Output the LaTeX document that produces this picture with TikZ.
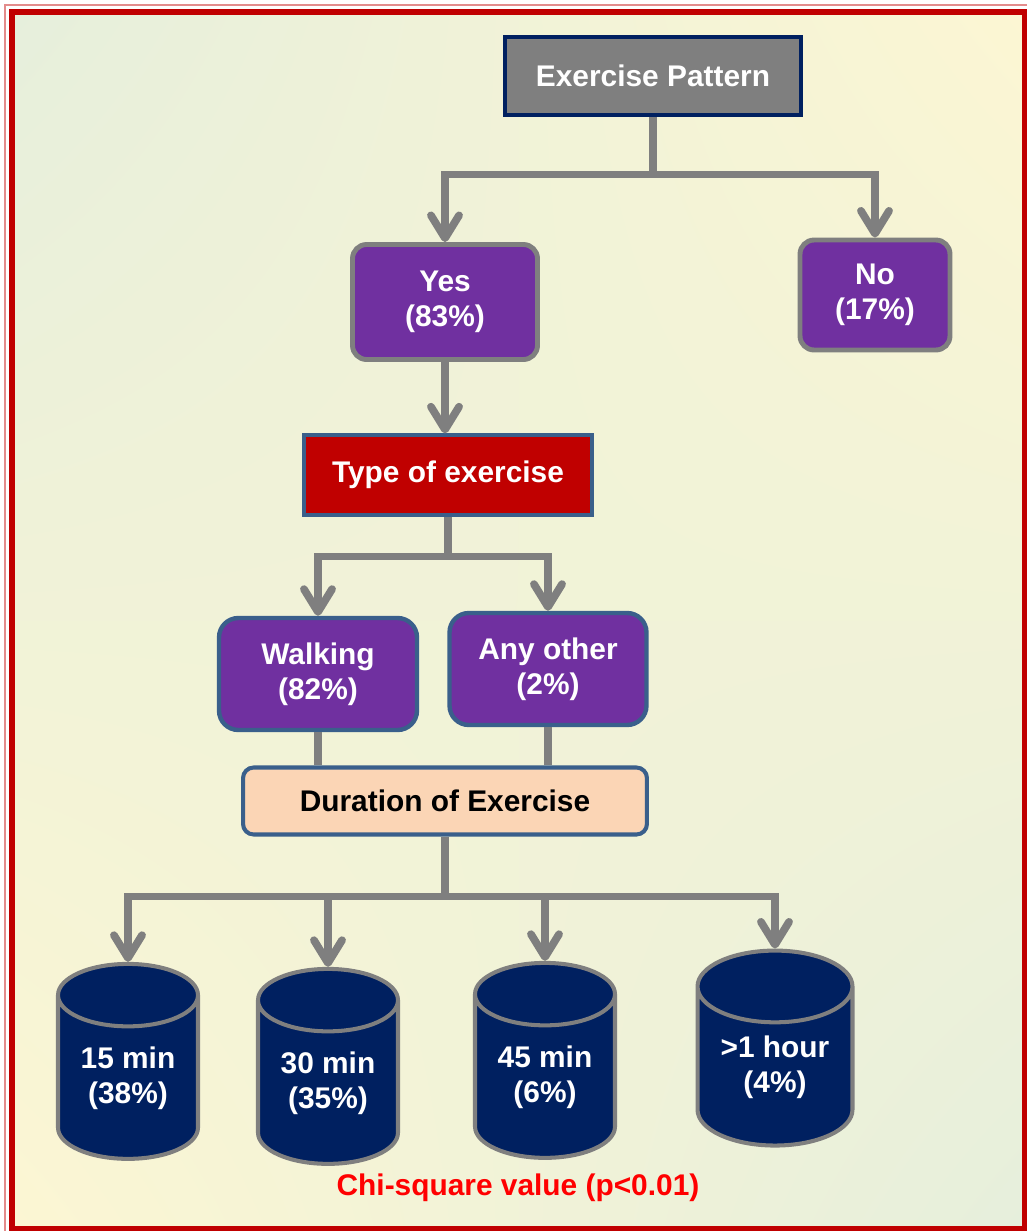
\documentclass[tikz,border=0pt]{standalone}
\usepackage{fontspec}
\setmainfont{Liberation Sans}
\usetikzlibrary{shapes.geometric,arrows.meta,shadings}
\definecolor{linegray}{HTML}{7F7F7F}
\definecolor{navy}{HTML}{002060}
\definecolor{lilac}{HTML}{7030A0}
\definecolor{darkred}{HTML}{C00000}
\definecolor{steel}{HTML}{3A5F8B}
\definecolor{peach}{HTML}{FBD5B5}
\definecolor{bggreen}{HTML}{E6EFDC}
\definecolor{bgyellow}{HTML}{FCF6D3}
\tikzset{
	txt/.style={font=\bfseries\fontsize{17}{20}\selectfont, align=center, text=white, inner sep=0pt},
	link/.style={draw=linegray, line width=4.4pt},
	arrow/.style={link, -{Straight Barb[length=13pt,width=16pt,round]}},
	rootbox/.style={txt, rectangle, fill=linegray, draw=navy, line width=2.8pt},
	answer/.style={txt, rectangle, rounded corners=8pt, fill=lilac, draw=linegray, line width=2.8pt},
	typebox/.style={txt, rectangle, fill=darkred, draw=steel, line width=1.8pt},
	kind/.style={txt, rectangle, rounded corners=11pt, fill=lilac, draw=steel, line width=2.5pt},
	durbox/.style={txt, text=black, rectangle, rounded corners=6pt, fill=peach, draw=steel, line width=2.3pt},
	drum/.style={txt, cylinder, shape border rotate=90, aspect=0.66, fill=navy, draw=linegray, line width=2.3pt, minimum width=2.8cm, minimum height=3.9cm}
}
\begin{document}
\begin{tikzpicture}[x=0.02cm, y=-0.02cm]
	\useasboundingbox (0,0) rectangle (1027,1231);
	\shade[upper left=bggreen, upper right=bgyellow, lower left=bgyellow, lower right=bggreen] (12,12) rectangle (1025,1229);
	\draw[darkred!45, line width=1.2pt] (5,5) rectangle (1032,1236);
	\draw[darkred, line width=3.4pt] (12,12) rectangle (1025,1229);

	\node[rootbox, minimum width=5.92cm, minimum height=1.56cm] (pattern) at (653,76) {Exercise Pattern};
	\node[answer, minimum width=3.7cm, minimum height=2.3cm] (yes) at (445,302) {Yes\\(83\%)};
	\node[answer, minimum width=3.0cm, minimum height=2.2cm] (no) at (875,295) {No\\(17\%)};
	\node[typebox, minimum width=5.76cm, minimum height=1.6cm] (type) at (448,475) {Type of exercise};
	\node[kind, minimum width=3.96cm, minimum height=2.24cm] (walk) at (318,674) {Walking\\(82\%)};
	\node[kind, minimum width=3.94cm, minimum height=2.24cm] (other) at (548,669) {Any other\\(2\%)};
	\node[durbox, minimum width=8.08cm, minimum height=1.34cm] (dur) at (445,801) {Duration of Exercise};
	\node[drum] (d15) at (128,1078) {15 min\\(38\%)};
	\node[drum] (d30) at (328,1083) {30 min\\(35\%)};
	\node[drum] (d45) at (545,1077) {45 min\\(6\%)};
	\node[drum, minimum width=3.1cm] (d60) at (775,1067) {>1 hour\\(4\%)};
	\node[txt, text=red] (chi) at (518,1188) {Chi-square value (p<0.01)};

	\draw[link] (pattern.south) -- ++(0,57) coordinate (s1);
	\draw[arrow] (s1) -| (yes.north);
	\draw[arrow] (s1) -| (no.north);
	\draw[arrow] (yes.south) -- (yes.south |- type.north);
	\draw[link] (type.south) -- ++(0,40) coordinate (s2);
	\draw[arrow] (s2) -| (walk.north);
	\draw[arrow] (s2) -| (other.north);
	\draw[link] (walk.south) -- (walk.south |- dur.north);
	\draw[link] (other.south) -- (other.south |- dur.north);
	\draw[link] (dur.south) -- ++(0,60) coordinate (s3);
	\foreach \d in {d15,d30,d45,d60}
		\draw[arrow] (s3) -| (\d.north);
\end{tikzpicture}
\end{document}
